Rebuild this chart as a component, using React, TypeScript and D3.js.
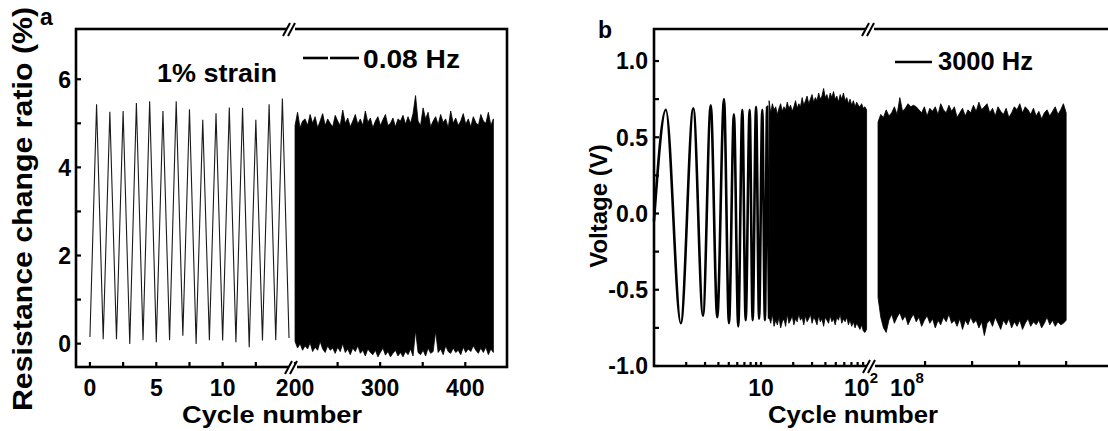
import React from "react";
import * as d3 from "d3";

// ---- panel a: resistance change under 1% strain ----
// slow cycles (0..15): valley / peak values, peaks sit at k + 0.5
const slowValleys = [0.15, 0.1, 0.1, -0.01, 0.08, 0.03, 0.08, 0.18, -0.01, 0.08, 0.07, 0.03, -0.08, 0.07, 0.08, 0.13];
const slowPeaks = [5.43, 5.26, 5.28, 5.46, 5.5, 5.28, 5.5, 5.32, 5.08, 5.23, 5.36, 5.35, 5.08, 5.43, 5.56];
// dense cycles 200..433, upper / lower envelope
const denseStartA = 200;
const denseEndA = 433;
const upperA = [4.95, 5.25, 4.9, 5.05, 5.1, 4.95, 5.2, 5.0, 5.15, 4.9, 5.05, 5.22, 4.95, 5.1, 5.0, 4.92, 5.18, 5.05, 4.95, 5.3, 5.0, 5.12, 4.92, 5.05, 5.2, 4.98, 5.1, 4.95, 5.28, 5.02, 5.12, 4.9, 5.05, 5.15, 4.95, 5.08, 5.2, 4.95, 5.0, 5.12, 4.92, 5.1, 5.05, 5.18, 4.98, 5.15, 5.0, 5.22, 5.63, 5.05, 4.95, 5.35, 5.1, 5.25, 4.92, 5.05, 5.15, 4.97, 5.2, 5.02, 5.1, 4.9, 5.28, 5.0, 5.12, 4.95, 5.05, 5.22, 4.98, 5.1, 4.92, 5.15, 5.02, 4.95, 5.2, 5.05, 5.0, 5.25, 4.95, 5.1];
const lowerA = [0.05, -0.1, 0.0, -0.15, -0.05, -0.12, 0.02, -0.18, -0.08, -0.15, 0.05, -0.12, -0.2, -0.05, -0.15, -0.1, -0.22, -0.08, -0.18, 0.0, -0.2, -0.12, -0.25, -0.1, -0.18, -0.05, -0.22, -0.15, -0.28, -0.12, -0.2, -0.25, -0.15, -0.3, -0.2, -0.1, -0.26, -0.18, -0.3, -0.22, -0.15, -0.28, -0.2, -0.3, -0.18, -0.25, -0.12, -0.28, 0.3, -0.2, -0.25, -0.15, -0.28, -0.1, -0.22, -0.18, 0.28, -0.2, -0.12, -0.25, -0.05, -0.18, -0.22, -0.1, -0.2, -0.15, -0.25, -0.08, -0.2, -0.12, -0.18, -0.05, -0.15, -0.22, -0.1, -0.2, -0.08, -0.25, -0.12, -0.2];

const aYTicks = [0, 2, 4, 6];
const aYMinor = [1, 3, 5];
const aXLeftTicks = [0, 5, 10];
const aXLeftMinor = [2.5, 7.5, 12.5];
const aXRightTicks = [200, 300, 400];
const aXRightMinor = [250, 350];

// ---- panel b: voltage at 3000 Hz ----
// first cycles: extrema (cycle number, voltage)
const sineCycles = [1.0, 1.29, 1.78, 2.33, 2.87, 3.39, 3.9, 4.51, 5.02, 5.58, 6.13, 6.69, 7.19, 7.83, 8.36, 8.99, 9.6, 10.28, 10.88, 11.4, 11.9];
const sineValues = [-0.05, 0.68, -0.72, 0.69, -0.67, 0.71, -0.68, 0.75, -0.72, 0.65, -0.74, 0.68, -0.7, 0.68, -0.7, 0.7, -0.69, 0.68, -0.7, 0.7, -0.69];
const denseStartB1 = 11.9;
const denseEndB1 = 97;
const upperB1 = [0.74, 0.66, 0.72, 0.68, 0.7, 0.65, 0.69, 0.72, 0.67, 0.7, 0.68, 0.73, 0.69, 0.71, 0.67, 0.7, 0.74, 0.69, 0.72, 0.7, 0.76, 0.71, 0.74, 0.77, 0.72, 0.75, 0.78, 0.73, 0.76, 0.74, 0.79, 0.75, 0.77, 0.82, 0.76, 0.78, 0.74, 0.79, 0.76, 0.8, 0.75, 0.77, 0.73, 0.78, 0.75, 0.79, 0.74, 0.76, 0.72, 0.75, 0.71, 0.74, 0.7, 0.73, 0.71, 0.7, 0.72, 0.69, 0.7, 0.68];
const lowerB1 = [-0.68, -0.72, -0.66, -0.74, -0.7, -0.73, -0.68, -0.75, -0.71, -0.69, -0.74, -0.66, -0.72, -0.7, -0.67, -0.73, -0.69, -0.71, -0.66, -0.7, -0.68, -0.73, -0.67, -0.71, -0.69, -0.66, -0.72, -0.68, -0.7, -0.73, -0.67, -0.71, -0.69, -0.74, -0.68, -0.7, -0.72, -0.67, -0.71, -0.69, -0.73, -0.68, -0.7, -0.66, -0.72, -0.69, -0.71, -0.68, -0.73, -0.7, -0.74, -0.71, -0.75, -0.72, -0.74, -0.76, -0.73, -0.77, -0.78, -0.76];
const denseStartB2 = 1e8;
const denseEndB2 = 5e8;
const upperB2 = [0.6, 0.65, 0.63, 0.68, 0.64, 0.66, 0.7, 0.65, 0.76, 0.67, 0.69, 0.72, 0.7, 0.71, 0.7, 0.68, 0.66, 0.7, 0.64, 0.69, 0.67, 0.7, 0.65, 0.72, 0.68, 0.66, 0.71, 0.67, 0.7, 0.63, 0.66, 0.69, 0.64, 0.68, 0.66, 0.71, 0.67, 0.73, 0.68, 0.7, 0.72, 0.66, 0.69, 0.64, 0.7, 0.67, 0.65, 0.69, 0.63, 0.66, 0.7, 0.68, 0.72, 0.66, 0.7, 0.68, 0.65, 0.69, 0.64, 0.67, 0.62, 0.66, 0.68, 0.64, 0.67, 0.7, 0.65, 0.68, 0.72, 0.66];
const lowerB2 = [-0.55, -0.68, -0.75, -0.78, -0.7, -0.66, -0.72, -0.68, -0.65, -0.7, -0.67, -0.73, -0.69, -0.66, -0.71, -0.68, -0.74, -0.7, -0.67, -0.72, -0.69, -0.75, -0.7, -0.73, -0.68, -0.71, -0.66, -0.72, -0.7, -0.74, -0.69, -0.76, -0.7, -0.73, -0.68, -0.72, -0.7, -0.75, -0.71, -0.8, -0.72, -0.7, -0.74, -0.68, -0.72, -0.76, -0.7, -0.73, -0.69, -0.75, -0.71, -0.74, -0.7, -0.76, -0.72, -0.69, -0.74, -0.71, -0.73, -0.7, -0.75, -0.72, -0.68, -0.73, -0.7, -0.74, -0.71, -0.73, -0.72, -0.7];

const bYTicks = [1.0, 0.5, 0.0, -0.5, -1.0];
const bYMinor = [0.75, 0.25, -0.25, -0.75];
const bXLeftMinor = [2, 3, 4, 5, 6, 7, 8, 9, 20, 30, 40, 50, 60, 70, 80, 90];
const bXRightMinor = [2e8, 3e8, 4e8, 5e8];

const FONT = "'Liberation Sans', Arial, sans-serif";

export default function App() {
  const W = 1108;
  const H = 431;

  // panel a scales
  const ay = d3.scaleLinear().domain([-0.53, 7.14]).range([367, 29]);
  const axL = d3.scaleLinear().domain([-1.05, 15.3]).range([76, 293]);
  const axR = d3.scaleLinear().domain([197.6, 449]).range([293, 507]);

  // panel b scales
  const by = d3.scaleLinear().domain([-1.0, 1.21]).range([366, 29]);
  const bxL = d3.scaleLog().domain([1, 100]).range([654, 868]);
  const bxR = d3.scaleLinear().domain([0.872e8, 5.89e8]).range([872, 1108]);

  // zigzag of slow cycles
  const slowPts: [number, number][] = [];
  slowValleys.forEach((v, i) => {
    slowPts.push([i, v]);
    if (i < slowPeaks.length) slowPts.push([i + 0.5, slowPeaks[i]]);
  });
  const slowLine = d3
    .line<[number, number]>()
    .x((d) => axL(d[0]))
    .y((d) => ay(d[1]));

  const envelope = (
    up: number[],
    lo: number[],
    x0: number,
    x1: number,
    xs: any,
    ys: any
  ) => {
    const r0 = xs(x0);
    const r1 = xs(x1);
    const pts = up.map((u, i) => ({
      px: r0 + ((r1 - r0) * i) / (up.length - 1),
      u,
      l: lo[i],
    }));
    return d3
      .area<any>()
      .x((d) => d.px)
      .y0((d) => ys(d.l))
      .y1((d) => ys(d.u))(pts);
  };

  const sinePts = sineCycles.map((c, i) => [c, sineValues[i]] as [number, number]);
  const sineLine = d3
    .line<[number, number]>()
    .x((d) => bxL(d[0]))
    .y((d) => by(d[1]))
    .curve(d3.curveMonotoneX);

  const breakMark = (x: number, y: number, key: string) => (
    <g key={key}>
      <rect x={x - 4} y={y - 3} width={8} height={6} fill="white" />
      <line x1={x - 8} y1={y + 7} x2={x - 1} y2={y - 6} stroke="black" strokeWidth={2} />
      <line x1={x - 3} y1={y + 7} x2={x + 4} y2={y - 6} stroke="black" strokeWidth={2} />
    </g>
  );

  const tickStyle = { stroke: "black", strokeWidth: 2.2 };
  const labelStyle = { fontFamily: FONT, fontWeight: 700, fontSize: 23 } as const;

  return (
    <svg
      width={W}
      height={H}
      style={{ position: "absolute", left: 0, top: 0, background: "white" }}
    >
      {/* ===== panel a ===== */}
      <path d={slowLine(slowPts) || ""} fill="none" stroke="#1a1a1a" strokeWidth={1.1} />
      <path
        d={envelope(upperA, lowerA, denseStartA, denseEndA, axR, ay) || ""}
        fill="black"
        stroke="black"
        strokeWidth={0.8}
      />
      <rect x={76} y={29} width={431} height={338} fill="none" stroke="black" strokeWidth={2.6} />
      {aYTicks.concat(aYMinor).map((t) => (
        <line key={"ay" + t} x1={76} x2={81} y1={ay(t)} y2={ay(t)} {...tickStyle} />
      ))}
      {aYTicks.map((t) => (
        <text key={"ayl" + t} x={71} y={ay(t)} dy="0.36em" textAnchor="end" {...labelStyle}>
          {t}
        </text>
      ))}
      {aXLeftTicks.concat(aXLeftMinor).map((t) => (
        <line key={"axl" + t} x1={axL(t)} x2={axL(t)} y1={367} y2={362} {...tickStyle} />
      ))}
      {aXRightTicks.concat(aXRightMinor).map((t) => (
        <line key={"axr" + t} x1={axR(t)} x2={axR(t)} y1={367} y2={362} {...tickStyle} />
      ))}
      {aXLeftTicks.map((t) => (
        <text key={"axll" + t} x={axL(t)} y={396} textAnchor="middle" {...labelStyle}>
          {t}
        </text>
      ))}
      {aXRightTicks.map((t) => (
        <text key={"axrl" + t} x={axR(t)} y={396} textAnchor="middle" {...labelStyle}>
          {t}
        </text>
      ))}
      {breakMark(291, 29, "ba1")}
      {breakMark(293, 367, "ba2")}
      <text x={272} y={423} textAnchor="middle" {...labelStyle} fontSize={24} textLength={180} lengthAdjust="spacingAndGlyphs">
        Cycle number
      </text>
      <text
        transform="translate(32,209) rotate(-90)"
        textAnchor="middle"
        {...labelStyle}
        fontSize={27}
        textLength={404}
        lengthAdjust="spacingAndGlyphs"
      >
        Resistance change ratio (%)
      </text>
      <text x={40} y={25} {...labelStyle} fontSize={23}>
        a
      </text>
      <text x={157} y={82} {...labelStyle} fontSize={26} textLength={120} lengthAdjust="spacingAndGlyphs">
        1% strain
      </text>
      <line x1={303} x2={328} y1={58} y2={58} stroke="black" strokeWidth={2.6} />
      <line x1={330} x2={359} y1={58} y2={58} stroke="black" strokeWidth={2.6} />
      <text x={363} y={68} {...labelStyle} fontSize={26} textLength={97} lengthAdjust="spacingAndGlyphs">
        0.08 Hz
      </text>

      {/* ===== panel b ===== */}
      <path d={sineLine(sinePts) || ""} fill="none" stroke="black" strokeWidth={2.6} />
      <path
        d={envelope(upperB1, lowerB1, denseStartB1, denseEndB1, bxL, by) || ""}
        fill="black"
        stroke="black"
        strokeWidth={0.8}
      />
      <path
        d={envelope(upperB2, lowerB2, denseStartB2, denseEndB2, bxR, by) || ""}
        fill="black"
        stroke="black"
        strokeWidth={0.8}
      />
      <path d="M1110,29 H654 V366 H1110" fill="none" stroke="black" strokeWidth={2.6} />
      {bYTicks.concat(bYMinor).map((t) => (
        <line key={"by" + t} x1={654} x2={659} y1={by(t)} y2={by(t)} {...tickStyle} />
      ))}
      {bYTicks.map((t) => (
        <text key={"byl" + t} x={648} y={by(t)} dy="0.36em" textAnchor="end" {...labelStyle}>
          {d3.format(".1f")(t).replace("−", "-")}
        </text>
      ))}
      {bXLeftMinor.concat([10]).map((t) => (
        <line key={"bxl" + t} x1={bxL(t)} x2={bxL(t)} y1={366} y2={362} {...tickStyle} />
      ))}
      {bXRightMinor.map((t) => (
        <line key={"bxr" + t} x1={bxR(t)} x2={bxR(t)} y1={366} y2={361} {...tickStyle} />
      ))}
      <text x={bxL(10)} y={396} textAnchor="middle" {...labelStyle}>
        10
      </text>
      <text x={bxL(100) + 10} y={396} textAnchor="end" {...labelStyle}>
        10
        <tspan fontSize={15} dy={-13}>
          2
        </tspan>
      </text>
      <text x={bxR(1e8) + 12} y={396} textAnchor="start" {...labelStyle}>
        10
        <tspan fontSize={15} dy={-13}>
          8
        </tspan>
      </text>
      {breakMark(870, 29, "bb1")}
      {breakMark(871, 366, "bb2")}
      <text x={853} y={423} textAnchor="middle" {...labelStyle} fontSize={24} textLength={170} lengthAdjust="spacingAndGlyphs">
        Cycle number
      </text>
      <text transform="translate(607,206) rotate(-90)" textAnchor="middle" {...labelStyle} fontSize={24}>
        Voltage (V)
      </text>
      <text x={598} y={38} {...labelStyle} fontSize={23}>
        b
      </text>
      <line x1={895} x2={932} y1={62} y2={62} stroke="black" strokeWidth={2.4} />
      <text x={938} y={70} {...labelStyle} fontSize={25} textLength={95} lengthAdjust="spacingAndGlyphs">
        3000 Hz
      </text>
    </svg>
  );
}
